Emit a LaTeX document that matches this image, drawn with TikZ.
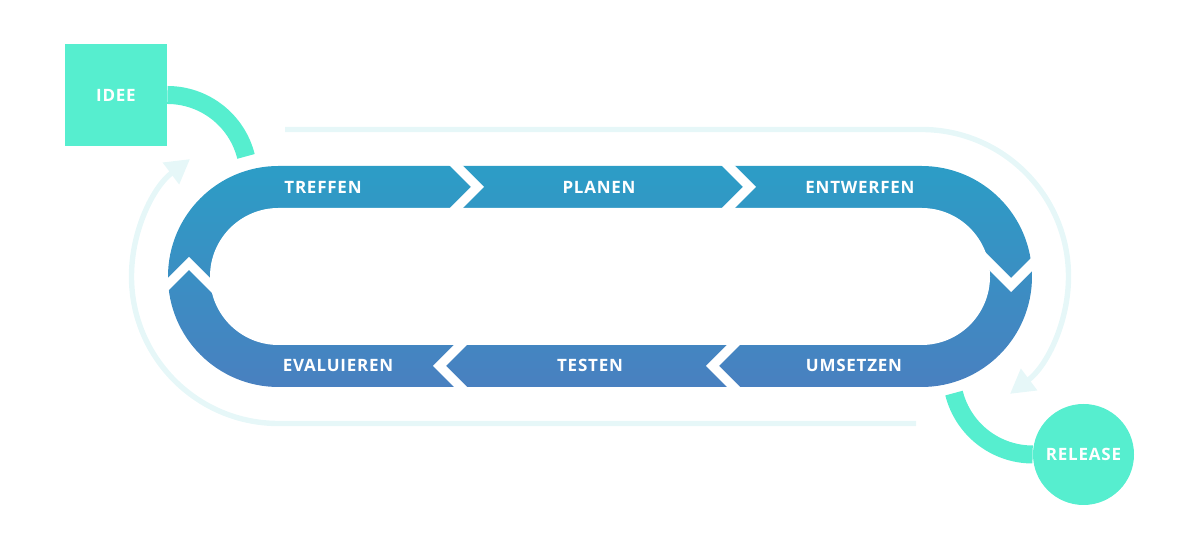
\documentclass[tikz,border=0pt]{standalone}
\usepackage{fontspec}
\setmainfont{Open Sans}
\usepackage{tikz}
\usetikzlibrary{arrows.meta}
\definecolor{TrackTop}{RGB}{44,157,198}
\definecolor{TrackBottom}{RGB}{73,128,192}
\definecolor{MintGreen}{RGB}{86,238,207}
\definecolor{LoopPale}{RGB}{230,247,248}

\begin{document}
\begin{tikzpicture}[x=0.5pt,y=0.5pt,
  lbl/.style={font=\fontsize{8.5}{10}\selectfont\bfseries\addfontfeature{LetterSpace=4.5},text=white},
  backloop/.style={LoopPale,line width=2.7pt,-{Triangle[width=13pt,length=12pt]}},
  mintlink/.style={MintGreen,line width=9pt}]
  \useasboundingbox (0,0) rectangle (1200,550);

  % Outer return loops
  \coordinate (loopL) at (916,126.5);
  \coordinate (loopR) at (285,420.5);
  \draw[backloop] (loopL) -- (278.5,126.5) arc[start angle=270,end angle=127,radius=147];
  \draw[backloop] (loopR) -- (921.5,420.5) arc[start angle=90,end angle=-53,radius=147];

  % Track
  \shade[top color=TrackTop,bottom color=TrackBottom]
    (278.5,384) -- (921.5,384) arc[start angle=90,end angle=-90,radius=110.5]
    -- (278.5,163) arc[start angle=270,end angle=90,radius=110.5] -- cycle;
  \fill[white]
    (278.5,342) -- (921.5,342) arc[start angle=90,end angle=-90,radius=68.5]
    -- (278.5,205) arc[start angle=270,end angle=90,radius=68.5] -- cycle;

  % Chevron gaps
  \foreach \a in {471,743}{
    \fill[white] (\a-25,388) -- (\a,363) -- (\a-25,338) -- (\a-12,338) -- (\a+13,363) -- (\a-12,388) -- cycle;
  }
  \foreach \a in {433,706}{
    \fill[white] (\a+25,209) -- (\a,184) -- (\a+25,159) -- (\a+38,159) -- (\a+13,184) -- (\a+38,209) -- cycle;
  }
  \fill[white] (159,263) -- (189,293) -- (219,263) -- (219,250) -- (189,280) -- (159,250) -- cycle;
  \fill[white] (981,302) -- (1011,272) -- (1041,302) -- (1041,288) -- (1011,258) -- (981,288) -- cycle;

  \foreach \name/\x/\y/\txt in {
    treffen/323/363/TREFFEN,
    planen/599/363/PLANEN,
    entwerfen/860/363/ENTWERFEN,
    umsetzen/854/185/UMSETZEN,
    testen/590/185/TESTEN,
    evaluieren/338/185/EVALUIEREN
  }{
    \node[lbl] (\name) at (\x,\y) {\txt};
  }

  % Start and end
  \node[lbl,fill=MintGreen,minimum size=51pt,inner sep=0pt] (idee) at (116,455) {IDEE};
  \node[lbl,fill=MintGreen,circle,minimum size=50.5pt,inner sep=0pt] (release) at (1083.5,95.5) {RELEASE};
  \draw[mintlink] (idee.east) arc[start angle=90,end angle=14,radius=81];
  \draw[mintlink] (release.west) arc[start angle=270,end angle=194,radius=81];
\end{tikzpicture}
\end{document}
